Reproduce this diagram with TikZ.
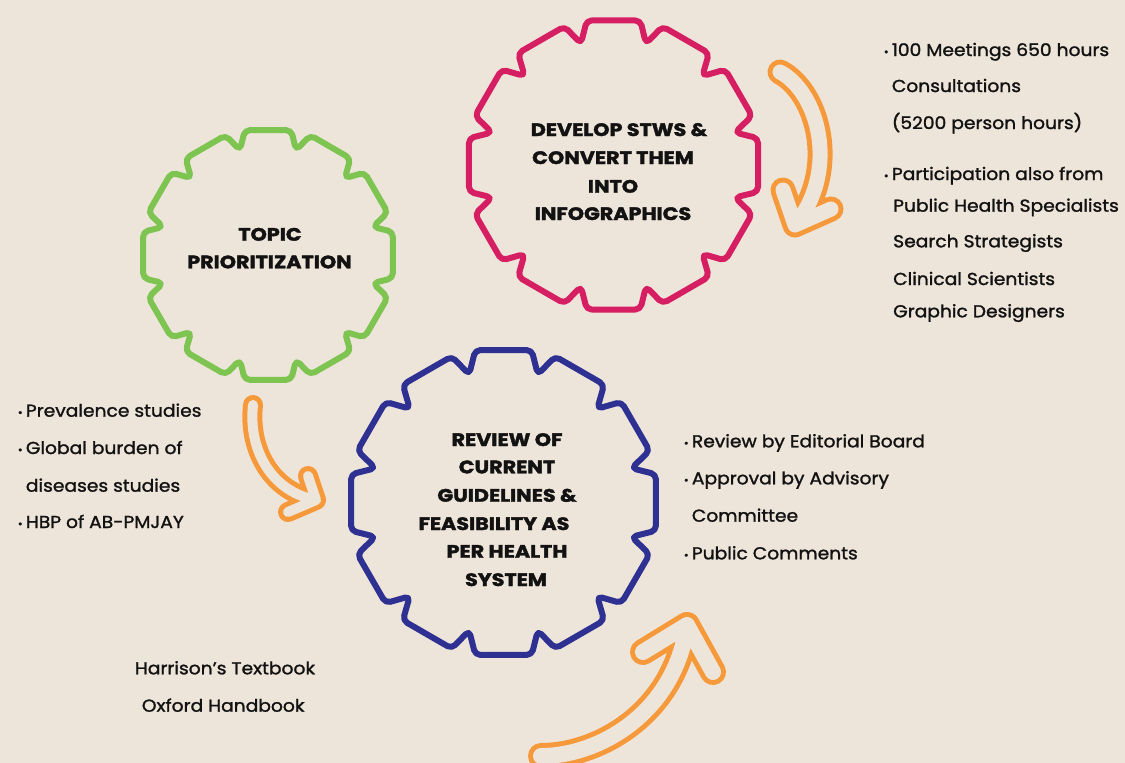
\documentclass[tikz,border=0pt]{standalone}
\usepackage{fontspec}
\setmainfont{Poppins}
\newfontfamily\bodyf{Poppins}[FakeStretch=1.08, FakeBold=1.5]
\newfontfamily\headf{Poppins}[FakeStretch=1.15, BoldFeatures={FakeBold=2}]
\definecolor{bg}{HTML}{EEE5DA}
\definecolor{ggreen}{HTML}{7DC450}
\definecolor{gpink}{HTML}{D61E63}
\definecolor{gblue}{HTML}{2E3192}
\definecolor{aorange}{HTML}{F6993A}
\definecolor{ink}{HTML}{121212}
\newcommand\mygear[4]{%
  \draw[gearline, draw=#1, shift={(#2,#3)}] (75:{0.855*#4})
    \foreach \i in {0,...,10}{ -- ({79.5+30*\i}:#4) -- ({100.5+30*\i}:#4) -- ({105+30*\i}:{0.855*#4}) }
    -- ({79.5+330}:#4) -- ({100.5+330}:#4) -- cycle;}
\newcommand\bul{\llap{\fontsize{11}{11}\selectfont\raisebox{0.4pt}{•}\kern 3.2pt}}
\begin{document}
\begin{tikzpicture}[x=1pt,y=-1pt,
  gearline/.style={line width=6pt, rounded corners=5pt, line join=round},
  gt/.style={font=\fontsize{18}{20}\headf\bfseries, text=ink, anchor=base, inner sep=0pt},
  bt/.style={font=\fontsize{17.3}{20}\bodyf, text=ink, anchor=base west, inner sep=0pt},
  ct/.style={font=\fontsize{17.3}{20}\bodyf, text=ink, anchor=base, inner sep=0pt},
  aout/.style={draw=aorange, line width=#1, line cap=round, line join=round},
  ain/.style={draw=bg, line width=#1, line cap=round, line join=round}]
\fill[bg] (0,0) rectangle (1125,763);
\useasboundingbox (0,0) rectangle (1125,763);

% ---------- orange arrows ----------
% arrow A (pink -> list)
\coordinate (aS) at (780,72);
\coordinate (aT) at (795,225);
\coordinate (aL) at (783,190);
\coordinate (aR) at (831,209);
\foreach \st/\w in {aout/25pt, ain/15pt}{
  \draw[\st=\w] (aS) .. controls (818,92) and (840,170) .. (aT) (aL) -- (aT) -- (aR);}
% arrow B (green -> blue)
\coordinate (bS) at (253,405);
\coordinate (bT) at (316,500);
\coordinate (bU) at (308,476);
\coordinate (bD) at (288,512);
\foreach \st/\w in {aout/20pt, ain/10pt}{
  \draw[\st=\w] (bS) .. controls (248,450) and (272,492) .. (bT) (bU) -- (bT) -- (bD);}
% arrow C (bottom)
\coordinate (cS) at (541,756);
\coordinate (cT) at (687,625);
\coordinate (cL) at (643,652);
\coordinate (cR) at (713,672);
\foreach \st/\w in {aout/26pt, ain/16pt}{
  \draw[\st=\w] (cS) .. controls (600,756) and (675,712) .. (cT) (cL) -- (cT) -- (cR);}

% ---------- gears ----------
\mygear{ggreen}{268}{255}{127}
\mygear{gpink}{613.5}{165}{147}
\mygear{gblue}{503.5}{502.5}{155}

% ---------- gear titles ----------
\node[gt] (g1) at (270,240.7) {TOPIC};
\node[gt] (g2) at (269.5,268.3) {PRIORITIZATION};
\node[gt] (p1) at (619,136) {DEVELOP STWS \&};
\node[gt] (p2) at (613,164) {CONVERT THEM};
\node[gt] (p3) at (613,192.7) {INTO};
\node[gt] (p4) at (613,220) {INFOGRAPHICS};
\node[gt] (r1) at (507,446) {REVIEW OF};
\node[gt] (r2) at (507,473.3) {CURRENT};
\node[gt] (r3) at (507,501.7) {GUIDELINES \&};
\node[gt] (r4) at (494,530) {FEASIBILITY AS};
\node[gt] (r5) at (507,557.7) {PER HEALTH};
\node[gt] (r6) at (506,586) {SYSTEM};

% ---------- lists ----------
\node[bt] (l1) at (25.7,416.7) {\bul Prevalence studies};
\node[bt] (l2) at (25.7,454) {\bul Global burden of};
\node[bt] (l3) at (25.7,491.7) {diseases studies};
\node[bt] (l4) at (25.7,528) {\bul HBP of AB-PMJAY};

\node[bt] (m1) at (691.7,447.3) {\bul Review by Editorial Board};
\node[bt] (m2) at (691.7,484.3) {\bul Approval by Advisory};
\node[bt] (m3) at (691.7,521.7) {Committee};
\node[bt] (m4) at (691.7,559.3) {\bul Public Comments};

\node[bt] (t1) at (891.7,56) {\bul 100 Meetings 650 hours};
\node[bt] (t2) at (891.7,92) {Consultations};
\node[bt] (t3) at (891.7,129) {(5200 person hours)};
\node[bt] (t4) at (891.7,180) {\bul Participation also from};
\node[bt] (t5) at (893,211.7) {Public Health Specialists};
\node[bt] (t6) at (893,247.3) {Search Strategists};
\node[bt] (t7) at (893,285) {Clinical Scientists};
\node[bt] (t8) at (893,317.3) {Graphic Designers};

\node[ct] (h1) at (225,674.3) {Harrison’s Textbook};
\node[ct] (h2) at (223.2,711.7) {Oxford Handbook};
\end{tikzpicture}
\end{document}
